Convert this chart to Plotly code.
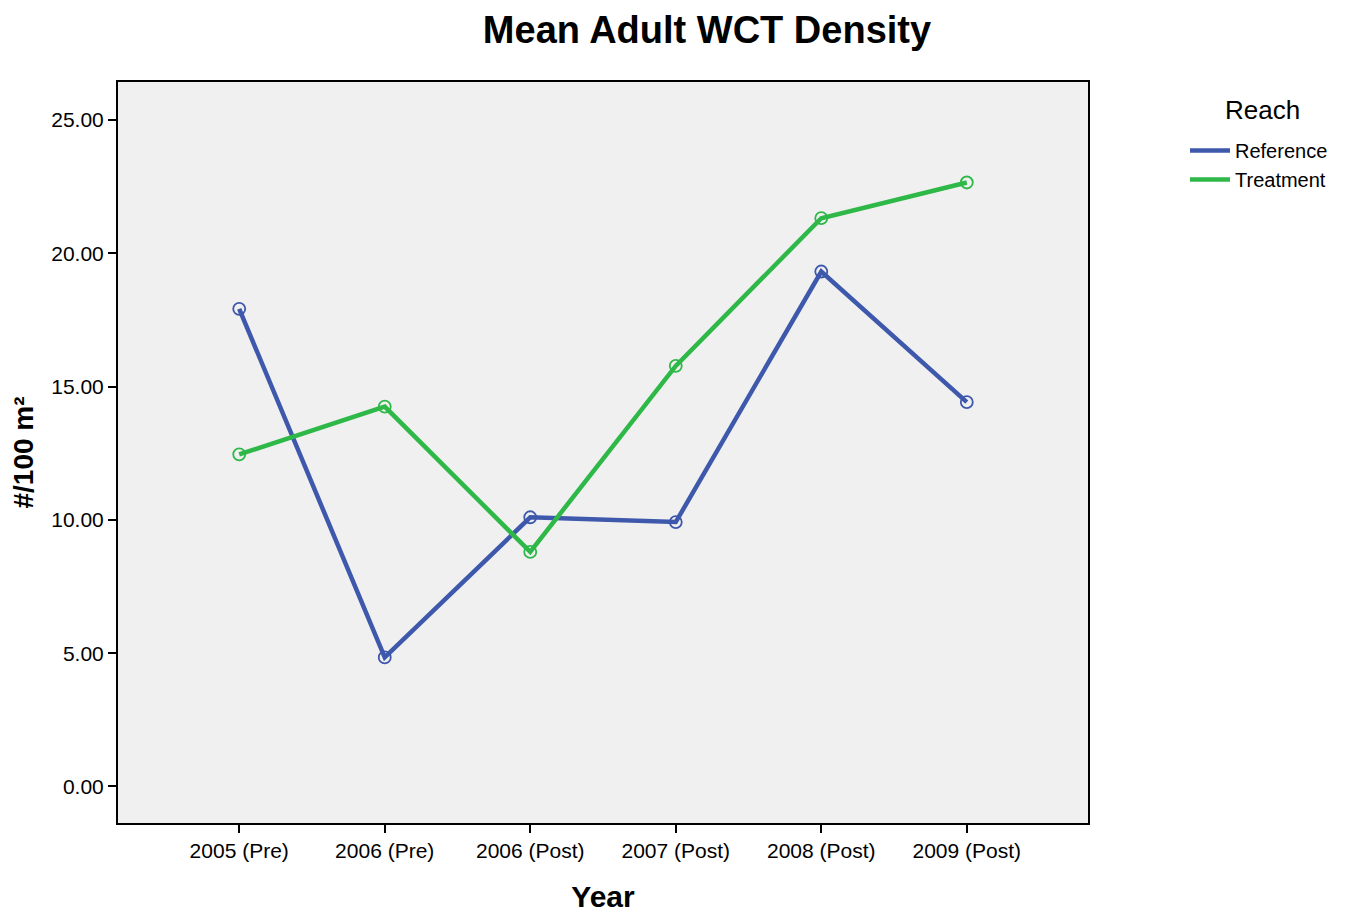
import plotly.graph_objects as go

# categories and values
years = ["2005 (Pre)", "2006 (Pre)", "2006 (Post)", "2007 (Post)", "2008 (Post)", "2009 (Post)"]
reference = [17.92, 4.84, 10.10, 9.92, 19.32, 14.42]
treatment = [12.46, 14.25, 8.80, 15.78, 21.32, 22.66]

BLUE = "#3E58AC"
GREEN = "#2EB848"
FONT = "Liberation Sans, Arial"

fig = go.Figure()

for name, vals, col in [("Reference", reference, BLUE), ("Treatment", treatment, GREEN)]:
    fig.add_trace(go.Scatter(
        x=list(range(len(years))), y=vals, name=name, mode="lines+markers",
        line=dict(color=col, width=4.5), showlegend=False,
        marker=dict(symbol="circle-open", size=12, color=col, line=dict(width=1.8)),
    ))
    # legend entry shows only the line, no marker
    fig.add_trace(go.Scatter(
        x=[None], y=[None], name=name, mode="lines",
        line=dict(color=col, width=4.5), showlegend=True,
    ))

axis_common = dict(
    showline=True, linecolor="black", linewidth=2, mirror=True,
    ticks="outside", ticklen=8, tickwidth=2, tickcolor="black",
    showgrid=False, zeroline=False,
    tickfont=dict(family=FONT, size=21, color="black"),
)

fig.update_xaxes(
    **axis_common,
    tickmode="array", tickvals=list(range(len(years))), ticktext=years,
    range=[-0.833, 5.833],
    title=dict(text="<b>Year</b>", font=dict(family=FONT, size=30, color="black"), standoff=25),
)
fig.update_yaxes(
    **axis_common,
    range=[-1.37, 26.43], tickvals=[0, 5, 10, 15, 20, 25], tickformat=".2f",
    title=dict(text="<b>#/100 m²</b>", font=dict(family=FONT, size=28, color="black"), standoff=12),
)

# page body has a small margin, so the figure is sized/offset to compensate
fig.update_layout(
    width=1345, height=916,
    margin=dict(l=101, r=265, t=74, b=101),
    paper_bgcolor="white", plot_bgcolor="#F0F0F0",
    title=dict(text="<b>Mean Adult WCT Density</b>", x=0.5197, xref="container", xanchor="center",
               y=0.976, yref="container", yanchor="middle",
               font=dict(family=FONT, size=38, color="black")),
    legend=dict(
        x=1.1, xanchor="left", y=0.934, yanchor="top",
        font=dict(family=FONT, size=20, color="black"),
        itemwidth=40, tracegroupgap=0, bgcolor="rgba(0,0,0,0)",
    ),
    annotations=[dict(
        text="Reach", x=1.18, y=0.962, xref="paper", yref="paper",
        xanchor="center", yanchor="middle", showarrow=False,
        font=dict(family=FONT, size=26, color="black"),
    )],
)

fig.write_html("out.html")
